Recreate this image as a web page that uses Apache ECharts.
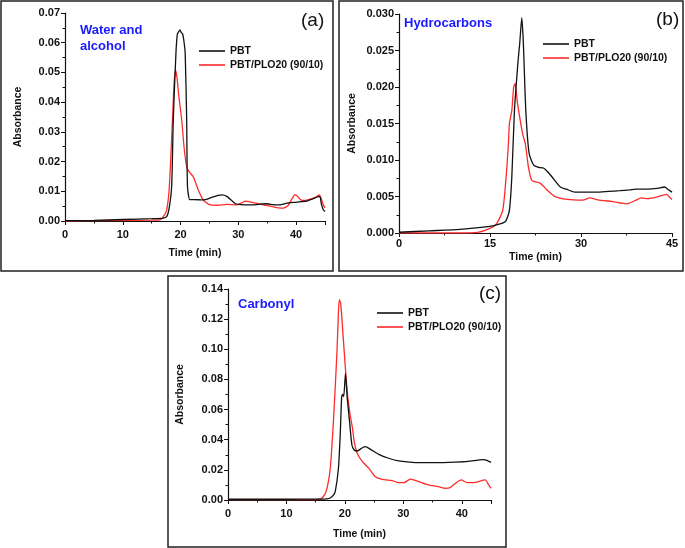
<!DOCTYPE html>
<html>
<head>
<meta charset="utf-8">
<script src="https://cdn.jsdelivr.net/npm/echarts@6/dist/echarts.min.js"></script>
<style>html,body{margin:0;padding:0;background:#fff;}#c{width:685px;height:548px;}</style>
</head>
<body>
<div id="c"></div>
<script>
// ---- Panel (a): Water and alcohol ----
const aPbtTime = [0,5,10,15,17,17.6,18,18.46,18.74,19.2,19.45,19.7,19.9,20.1,20.35,20.55,20.8,21.06,21.2,21.6,22.5,23.5,24.5,25.5,26.5,27.2,28,28.8,29.5,30.5,32,33.5,35,36,37,38,39,40,41,42,43,43.8,44.1,44.4,44.7,45];
const aPbtAbs  = [0.0001,0.0002,0.0005,0.0008,0.001,0.0015,0.004,0.0116,0.034,0.0565,0.063,0.0638,0.0643,0.0635,0.063,0.061,0.0565,0.034,0.0116,0.0072,0.0072,0.0071,0.0073,0.008,0.0086,0.0088,0.0083,0.007,0.0058,0.0055,0.0054,0.0056,0.0058,0.0055,0.0054,0.0058,0.0062,0.0063,0.0065,0.0068,0.0075,0.0082,0.0083,0.0055,0.0038,0.0032];
const aBlendTime = [0,5,10,15,16.5,17,17.6,18.06,18.6,18.9,19.15,19.4,19.7,20.2,20.6,21.06,21.5,22.2,23.07,23.9,25,26.5,28,29.7,30.5,31.2,32.5,34,35.5,37,37.8,38.6,39.3,39.8,40.3,40.8,41.5,42.5,43.5,44,44.3,44.7,45];
const aBlendAbs  = [0,0.0001,0.0002,0.0003,0.0005,0.0014,0.0037,0.0116,0.034,0.047,0.0508,0.048,0.042,0.034,0.025,0.0183,0.0165,0.0149,0.0104,0.0071,0.0055,0.0053,0.0056,0.0054,0.006,0.0067,0.0062,0.0056,0.005,0.0044,0.0043,0.0052,0.0075,0.0089,0.0082,0.0071,0.0069,0.0074,0.0081,0.0088,0.0078,0.0055,0.0044];

// ---- Panel (b): Hydrocarbons ----
const bPbtTime = [0,5,10,15,16.5,17.4,17.66,18.2,18.6,19.03,19.64,19.9,20.24,20.5,20.9,21.45,22.2,23,23.8,24.5,25.2,26.6,27.6,29,30.5,32.5,34.5,36.4,38,39.1,41,42.5,43.8,44.3,45];
const bPbtAbs  = [0.0001,0.0003,0.0005,0.0009,0.0012,0.0015,0.0017,0.0031,0.0077,0.0168,0.0237,0.026,0.0295,0.026,0.0168,0.0109,0.0093,0.009,0.0089,0.0084,0.0077,0.0063,0.006,0.0056,0.0056,0.0056,0.0057,0.0058,0.0059,0.006,0.006,0.0061,0.0063,0.006,0.0056];
const bBlendTime = [0,5,10,13,14.9,16.1,17.1,17.66,18.04,18.2,18.6,18.9,19.14,19.5,19.97,20.4,20.8,21.1,21.34,21.9,23.3,24.4,25.7,27.7,30.3,31.4,33,35.2,37.5,39.1,39.9,41,42.4,44.1,44.6,45];
const bBlendAbs  = [0,0,0,0.0001,0.0006,0.0013,0.0031,0.0077,0.0123,0.015,0.0168,0.02,0.0205,0.018,0.0155,0.0135,0.0123,0.0105,0.009,0.0072,0.0068,0.0059,0.005,0.0046,0.0045,0.0048,0.0045,0.0043,0.004,0.0045,0.0048,0.0047,0.0049,0.0053,0.0049,0.0046];

// ---- Panel (c): Carbonyl ----
const cPbtTime = [0,5,10,15,17,17.5,18,18.36,18.9,19.2,19.45,19.6,19.8,20.1,20.4,20.8,21.2,21.6,22.1,23,23.5,24.4,25.8,27.5,29.2,31.5,34.9,37.7,40.6,43.7,44.3,45];
const cPbtAbs  = [0.0005,0.0005,0.0005,0.0006,0.0008,0.0013,0.003,0.0057,0.0212,0.0433,0.0686,0.07,0.0686,0.084,0.0675,0.052,0.0365,0.0332,0.0325,0.0347,0.0354,0.0336,0.0303,0.0277,0.0259,0.025,0.0248,0.025,0.0254,0.0268,0.0263,0.025];
const cBlendTime = [0,5,10,15,15.5,16.1,16.8,17.5,18.07,18.65,18.9,19.05,19.3,19.8,20.4,20.9,21.3,21.6,22.1,23,24.1,25.2,26.4,28.1,29.2,30.1,31.2,32.6,34.3,36,37.2,38,38.9,39.9,40.9,42.3,44,44.6,45];
const cBlendAbs  = [0.0003,0.0003,0.0003,0.0003,0.0005,0.0013,0.0057,0.0212,0.0544,0.0986,0.125,0.133,0.13,0.103,0.0719,0.0564,0.0476,0.0387,0.031,0.0254,0.021,0.0155,0.0137,0.0128,0.0115,0.0115,0.0139,0.0122,0.01,0.0089,0.0077,0.0082,0.011,0.0133,0.0115,0.0117,0.0133,0.01,0.0077];

const seriesNames = ['PBT', 'PBT/PLO20 (90/10)'];
const panelTitles = ['Water and\nalcohol', 'Hydrocarbons', 'Carbonyl'];
const panelLetters = ['(a)', '(b)', '(c)'];
const xAxisName = 'Time (min)';
const yAxisName = 'Absorbance';

const zip = (t, v) => t.map((x, i) => [x, v[i]]);
const FONT = 'Liberation Sans, Arial, sans-serif';

const grids = [
  {left: 65, top: 13, width: 260, height: 208},
  {left: 399, top: 14, width: 273, height: 219},
  {left: 228, top: 289, width: 263, height: 211}
];
const yCfg = [
  {max: 0.07, interval: 0.01, dec: 2},
  {max: 0.03, interval: 0.005, dec: 3},
  {max: 0.14, interval: 0.02, dec: 2}
];
const xCfg = [
  {interval: 10, hide45: true, gap: 27, margin: 8},
  {interval: 15, hide45: false, gap: 19, margin: 5},
  {interval: 10, hide45: true, gap: 29, margin: 8}
];

const axisCommon = {
  axisLine: {show: true, lineStyle: {color: '#111', width: 1.2}},
  axisTick: {show: true, inside: false, length: 4, lineStyle: {color: '#111', width: 1}},
  minorTick: {show: true, splitNumber: 2, length: 2.5, lineStyle: {color: '#111', width: 1}},
  splitLine: {show: false},
  nameTextStyle: {fontFamily: FONT, fontWeight: 'bold', fontSize: 10.5, color: '#111'}
};

const xAxes = xCfg.map((c, i) => Object.assign({}, axisCommon, {
  type: 'value', gridIndex: i, min: 0, max: 45, interval: c.interval,
  name: xAxisName, nameLocation: 'middle', nameGap: c.gap,
  axisLabel: {fontFamily: FONT, fontWeight: 'bold', fontSize: 11, color: '#111', margin: c.margin,
    formatter: v => (c.hide45 && v === 45) ? '' : String(v)}
}));
const yAxes = yCfg.map((c, i) => Object.assign({}, axisCommon, {
  type: 'value', gridIndex: i, min: 0, max: c.max, interval: c.interval,
  name: yAxisName, nameLocation: 'middle', nameGap: i === 2 ? 42 : 41,
  axisLabel: {fontFamily: FONT, fontWeight: 'bold', fontSize: 11, color: '#111', margin: 5,
    formatter: v => v.toFixed(c.dec)}
}));

const data = [
  [zip(aPbtTime, aPbtAbs), zip(aBlendTime, aBlendAbs)],
  [zip(bPbtTime, bPbtAbs), zip(bBlendTime, bBlendAbs)],
  [zip(cPbtTime, cPbtAbs), zip(cBlendTime, cBlendAbs)]
];
const colors = ['#111111', '#ff2a2a'];
const series = [];
data.forEach((pair, gi) => pair.forEach((d, si) => {
  series.push({
    type: 'line', name: seriesNames[si], xAxisIndex: gi, yAxisIndex: gi,
    data: d, symbol: 'none', smooth: 0.2, z: si === 0 ? 3 : 2,
    lineStyle: {color: colors[si], width: 1.3}, itemStyle: {color: colors[si]}
  });
}));

const legendPos = [{left: 199, top: 45}, {left: 543, top: 38}, {left: 377, top: 307}];
const legends = legendPos.map(p => ({
  left: p.left, top: p.top, orient: 'vertical', selectedMode: false,
  data: seriesNames.map((n, k) => ({name: n, icon: 'rect', itemStyle: {color: colors[k]}})),
  itemWidth: 26, itemHeight: 1.6, itemGap: 2, padding: 0,
  textStyle: {fontFamily: FONT, fontWeight: 'bold', fontSize: 10.5, color: '#111', lineHeight: 12}
}));

const titlePos = [{left: 80, top: 22}, {left: 404, top: 15}, {left: 238, top: 296}];
const letterPos = [{left: 301, top: 11}, {left: 656, top: 10}, {left: 479, top: 284}];
const titles = [];
panelTitles.forEach((t, i) => titles.push({
  text: t, left: titlePos[i].left, top: titlePos[i].top, padding: 0,
  textStyle: {fontFamily: FONT, fontWeight: 'bold', fontSize: 13, color: '#1a1aff', lineHeight: 16}
}));
panelLetters.forEach((t, i) => titles.push({
  text: t, left: letterPos[i].left, top: letterPos[i].top, padding: 0,
  textStyle: {fontFamily: FONT, fontWeight: 'normal', fontSize: 19, color: '#111', lineHeight: 20}
}));

const boxes = [
  {x: 1, y: 1, width: 332, height: 270},
  {x: 339, y: 1, width: 344, height: 270},
  {x: 168, y: 276, width: 338, height: 271}
].map(s => ({type: 'rect', shape: s, style: {fill: 'none', stroke: '#222', lineWidth: 1.5}, z: 10, silent: true}));

const chart = echarts.init(document.getElementById('c'), null, {renderer: 'canvas'});
chart.setOption({
  backgroundColor: '#ffffff',
  animation: false,
  title: titles,
  legend: legends,
  grid: grids,
  xAxis: xAxes,
  yAxis: yAxes,
  series: series,
  graphic: boxes
});
</script>
</body>
</html>
